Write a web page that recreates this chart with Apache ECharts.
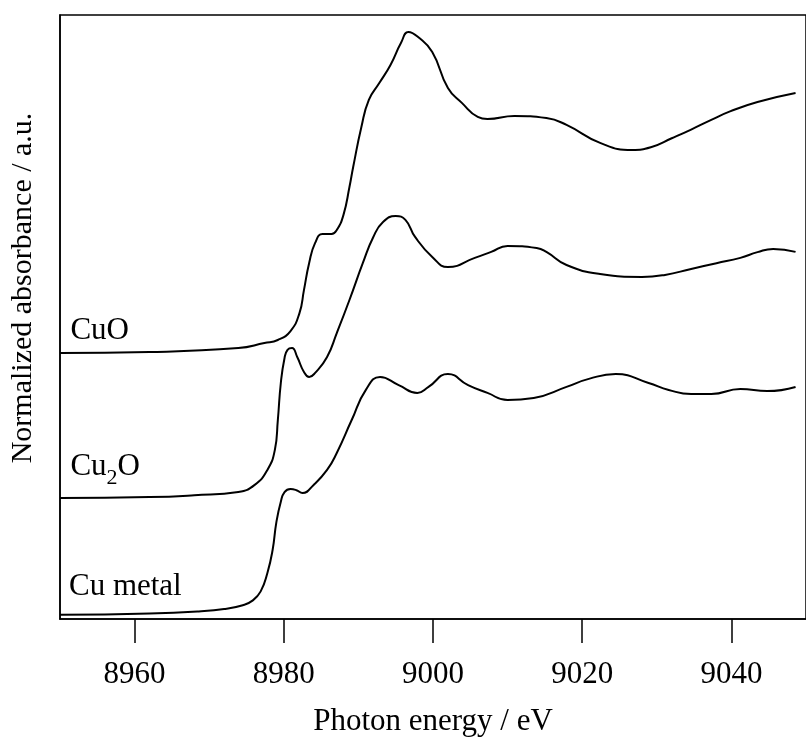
<!DOCTYPE html>
<html>
<head>
<meta charset="utf-8">
<script src="https://cdn.jsdelivr.net/npm/echarts@6/dist/echarts.min.js"></script>
<style>
  html, body { margin: 0; padding: 0; background: #fff; }
  #chart { width: 806px; height: 742px; }
</style>
</head>
<body>
<div id="chart"></div>
<script>
// photon energy (eV) and normalized absorbance, per sample
var cuEnergy = [8950, 8962, 8968.6, 8972, 8974.5, 8975.8, 8976.9, 8977.8, 8978.5, 8979.0, 8979.6, 8980.1,
    8980.9, 8981.7, 8982.5, 8984.0, 8985.8, 8987.1, 8989.1, 8991.0, 8992.9, 8995.4, 8997.9, 8999.4,
    9002.0, 9004.7, 9007.3, 9010.0, 9013.5, 9017.9, 9021.0, 9024.5, 9028.9, 9031.6, 9034.6, 9037.3,
    9041.2, 9044.8, 9048.6];
var cuAbs = [0.018, 0.024, 0.033, 0.043, 0.060, 0.080, 0.120, 0.200, 0.300, 0.420, 0.510, 0.552,
    0.565, 0.560, 0.548, 0.583, 0.648, 0.722, 0.865, 0.996, 1.052, 1.017, 0.983, 1.009,
    1.065, 1.017, 0.983, 0.952, 0.961, 1.009, 1.045, 1.065, 1.026, 0.996, 0.978, 0.978,
    1.000, 0.991, 1.009];

var cu2oEnergy = [8950, 8962, 8968, 8973.9, 8976.1, 8977.8, 8978.8, 8979.2, 8979.6, 8980.1, 8980.5, 8981.1,
    8981.8, 8982.7, 8983.4, 8984.2, 8985.8, 8987.1, 8988.8, 8990.6, 8992.0, 8993.3, 8995.0, 8996.3,
    8997.6, 8999.9, 9002.0, 9005.6, 9007.8, 9010.0, 9013.9, 9015.2, 9017.9, 9022.4, 9028.0, 9031.1,
    9034.6, 9038.0, 9041.2, 9043.5, 9045.6, 9048.6];
var cu2oAbs = [0.006, 0.010, 0.018, 0.032, 0.063, 0.128, 0.215, 0.345, 0.506, 0.615, 0.650, 0.658,
    0.619, 0.554, 0.532, 0.550, 0.619, 0.723, 0.867, 1.028, 1.141, 1.206, 1.232, 1.215,
    1.141, 1.054, 1.010, 1.050, 1.076, 1.102, 1.093, 1.076, 1.019, 0.980, 0.967, 0.976,
    1.002, 1.027, 1.050, 1.075, 1.089, 1.076];

var cuoEnergy = [8950, 8962, 8973.9, 8977.4, 8979.2, 8980.9, 8982.1, 8982.7, 8983.4, 8984.2, 8985.2,
    8986.4, 8987.1, 8988.0, 8988.8, 8989.3, 8990.4, 8991.4, 8992.8, 8994.3, 8995.7, 8996.7, 8998.0,
    8999.9, 9002.0, 9003.9, 9006.0, 9007.3, 9010.9, 9015.2, 9017.9, 9022.4, 9026.7, 9029.3, 9032.0,
    9034.6, 9037.3, 9039.9, 9043.5, 9048.6];
var cuoAbs = [0.007, 0.011, 0.028, 0.050, 0.063, 0.102, 0.180, 0.280, 0.398, 0.485, 0.524,
    0.524, 0.541, 0.607, 0.728, 0.815, 0.989, 1.107, 1.180, 1.259, 1.354, 1.402, 1.380,
    1.315, 1.159, 1.093, 1.033, 1.024, 1.037, 1.028, 0.998, 0.920, 0.889, 0.902, 0.940,
    0.978, 1.020, 1.058, 1.098, 1.137];

// vertical stacking offsets
var offsets = [0, 0.52, 1.15];

var sampleNames = ['Cu metal', 'Cu{sub|2}O', 'CuO'];
var labelEnergy = [8951.2, 8951.4, 8951.4];
var labelAbs = [0.141, 0.662, 1.254];

var xTicks = [8960, 8980, 9000, 9020, 9040];

var FONT = 'Liberation Serif';

function stack(energy, abs, off) {
    var out = [];
    for (var i = 0; i < energy.length; i++) {
        out.push([energy[i], abs[i] + off]);
    }
    return out;
}

var chart = echarts.init(document.getElementById('chart'));

function lineSeries(name, data) {
    return {
        name: name,
        type: 'line',
        data: data,
        smooth: 0.5,
        symbol: 'none',
        lineStyle: { color: '#000', width: 2 },
        silent: true
    };
}

chart.setOption({
    backgroundColor: '#fff',
    animation: false,
    grid: {
        left: 60,
        top: 15,
        width: 757,
        height: 604,
        show: true,
        borderColor: '#000',
        borderWidth: 1.5
    },
    xAxis: {
        type: 'value',
        min: 8950,
        max: 9050,
        interval: 20,
        name: 'Photon energy / eV',
        nameLocation: 'middle',
        nameGap: 87,
        nameTextStyle: { fontFamily: FONT, fontSize: 31, color: '#000' },
        axisLine: { show: true, onZero: false, lineStyle: { color: '#000', width: 1.5 } },
        axisTick: {
            show: true, length: 24, inside: false,
            lineStyle: { color: '#000', width: 1.5 },
            customValues: xTicks
        },
        axisLabel: {
            fontFamily: FONT, fontSize: 31, color: '#000', margin: 40,
            customValues: xTicks,
            formatter: function (v) { return String(v); }
        },
        splitLine: { show: false }
    },
    yAxis: {
        type: 'value',
        min: 0,
        max: 2.626,
        name: 'Normalized absorbance / a.u.',
        nameLocation: 'middle',
        nameGap: 22,
        nameTextStyle: { fontFamily: FONT, fontSize: 30, color: '#000', padding: [0, 0, 0, 58] },
        axisLine: { show: true, lineStyle: { color: '#000', width: 1.5 } },
        axisTick: { show: false },
        axisLabel: { show: false },
        splitLine: { show: false }
    },
    series: [
        lineSeries('Cu metal', stack(cuEnergy, cuAbs, offsets[0])),
        lineSeries('Cu2O', stack(cu2oEnergy, cu2oAbs, offsets[1])),
        lineSeries('CuO', stack(cuoEnergy, cuoAbs, offsets[2]))
    ]
});

// sample labels, placed through the chart's own coordinate system
var texts = [];
for (var i = 0; i < sampleNames.length; i++) {
    var p = chart.convertToPixel({ gridIndex: 0 }, [labelEnergy[i], labelAbs[i]]);
    texts.push({
        type: 'text',
        x: p[0],
        y: p[1],
        silent: true,
        style: {
            text: sampleNames[i],
            fontFamily: FONT,
            fontSize: 31,
            fill: '#000',
            align: 'left',
            verticalAlign: 'middle',
            rich: {
                sub: { fontFamily: FONT, fontSize: 22, fill: '#000', padding: [22, 0, 0, 0] }
            }
        }
    });
}
chart.setOption({ graphic: texts });
</script>
</body>
</html>
